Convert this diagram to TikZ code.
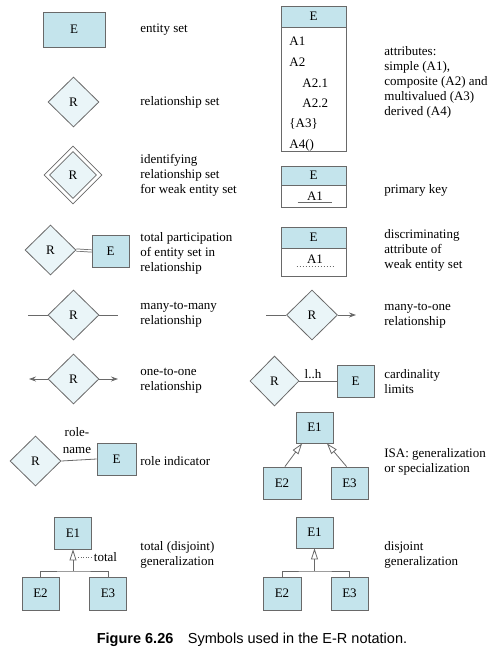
\documentclass[tikz,border=0pt]{standalone}
\usepackage{fontspec}
\setmainfont{Liberation Serif}
\newfontfamily\capfont{Liberation Sans}
\usetikzlibrary{shapes.geometric,arrows.meta}

\definecolor{entityblue}{RGB}{196,228,236}
\definecolor{relblue}{RGB}{234,245,248}
\definecolor{linegray}{RGB}{105,105,105}

\def\boxw{37pt}
\def\boxh{32pt}
\def\legx{140}
\def\legxr{384}

\begin{document}
\begin{tikzpicture}[x=1pt,y=-1pt,draw=linegray,line width=0.8pt,font=\fontsize{13}{15}\selectfont]
    \tikzstyle{entity}=[rectangle, draw=linegray, fill=entityblue, minimum width=\boxw, minimum height=\boxh, inner sep=0pt]
    \tikzstyle{relation}=[diamond, draw=linegray, fill=relblue, minimum width=51pt, minimum height=50pt, inner sep=0pt]
    \tikzstyle{attrbody}=[rectangle, draw=linegray, fill=white, minimum width=65pt, inner sep=0pt]
    \tikzstyle{legend}=[anchor=west, align=left, inner sep=0pt]
    \tikzstyle{plain}=[inner sep=0pt]
    \tikzstyle{isa}=[-{Triangle[open,length=11pt,width=7pt]}]
    \tikzstyle{oneside}=[-{Stealth[length=7pt,width=5pt]}]

    \useasboundingbox (0,0) rectangle (500,657);

    % left column
    \node[entity, minimum width=62pt, minimum height=35pt] (es-E) at (74,29.5) {E};
    \node[legend] (es-txt) at (\legx,29.5) {entity set};

    \node[relation] (rs-R) at (73.5,102) {R};
    \node[legend] (rs-txt) at (\legx,102) {relationship set};

    \node[relation, minimum width=58pt, minimum height=58pt, fill=white] (ir-out) at (73,175) {};
    \node[relation, minimum width=47pt, minimum height=47pt] (ir-R) at (73,175) {R};
    \node[legend] (ir-txt) at (\legx,175) {identifying\\relationship set\\for weak entity set};

    \node[relation] (tp-R) at (50.5,250) {R};
    \node[entity] (tp-E) at (110.5,251) {E};
    \draw[double=white, double distance=1.5pt, line width=0.75pt] (tp-R.east) -- (tp-E.west);
    \node[legend] (tp-txt) at (\legx,253) {total participation\\of entity set in\\relationship};

    \node[relation] (mm-R) at (73.5,315) {R};
    \coordinate (mm-l) at (28,315);
    \coordinate (mm-r) at (118,315);
    \draw (mm-l) -- (mm-R.west);
    \draw (mm-R.east) -- (mm-r);
    \node[legend] (mm-txt) at (\legx,315) {many-to-many\\relationship};

    \node[relation] (oo-R) at (73.5,379) {R};
    \coordinate (oo-l) at (29,379);
    \coordinate (oo-r) at (118,379);
    \draw[oneside] (oo-R.west) -- (oo-l);
    \draw[oneside] (oo-R.east) -- (oo-r);
    \node[legend] (oo-txt) at (\legx,381) {one-to-one\\relationship};

    \node[relation] (ri-R) at (35.5,461) {R};
    \node[entity, minimum width=39pt] (ri-E) at (116.5,459) {E};
    \draw (ri-R.east) -- (ri-E.west);
    \node[plain, align=center, font=\fontsize{13}{17}\selectfont] (ri-role) at (77,441) {role-\\name};
    \node[legend] (ri-txt) at (\legx,461) {role indicator};

    \node[entity] (tg-E1) at (73,533) {E1};
    \node[entity, minimum height=33pt] (tg-E2) at (40.5,593.5) {E2};
    \node[entity, minimum height=33pt] (tg-E3) at (108,593.5) {E3};
    \coordinate (tg-j) at (73,571);
    \draw[isa] (tg-j) -- (tg-E1.south);
    \draw (tg-E2.north) |- (tg-j) -| (tg-E3.north);
    \node[plain] (tg-total) at (105.5,557) {total};
    \coordinate (tg-dot) at (78,557);
    \draw[dotted, line width=0.6pt] (tg-dot) -- (tg-total.west);
    \node[legend] (tg-txt) at (\legx,555) {total (disjoint)\\generalization};

    % right column
    \node[entity, minimum width=65pt, minimum height=21pt] (at-E) at (313.5,16.5) {E};
    \node[attrbody, minimum height=124pt, anchor=north] (at-body) at (at-E.south) {};
    \foreach \txt/\xx/\yy in {A1/289/45, A2/289/66, A2.1/302/87, A2.2/302/107, \{A3\}/289/127, A4()/289/148}
        \node[plain, anchor=base west] (at-\yy) at (\xx,\yy) {\txt};
    \node[legend] (at-txt) at (\legxr,82) {attributes:\\simple (A1),\\composite (A2) and\\multivalued (A3)\\derived (A4)};

    \node[entity, minimum width=65pt, minimum height=19pt] (pk-E) at (313.5,175.5) {E};
    \node[attrbody, minimum height=22pt, anchor=north] (pk-body) at (pk-E.south) {};
    \node[plain, minimum width=34pt] (pk-A1) at (315,196) {A1};
    \draw ([yshift=-1.5pt]pk-A1.south west) -- ([yshift=-1.5pt]pk-A1.south east);
    \node[legend] (pk-txt) at (\legxr,190) {primary key};

    \node[entity, minimum width=65pt, minimum height=21pt] (dk-E) at (313.5,237.5) {E};
    \node[attrbody, minimum height=28pt, anchor=north] (dk-body) at (dk-E.south) {};
    \node[plain, minimum width=36pt] (dk-A1) at (315,259) {A1};
    \draw[dash pattern=on 1.5pt off 1.5pt, line width=0.6pt] ([yshift=-2.5pt]dk-A1.south west) -- ([yshift=-2.5pt]dk-A1.south east);
    \node[legend] (dk-txt) at (\legxr,250) {discriminating\\attribute of\\weak entity set};

    \node[relation] (mo-R) at (312,315) {R};
    \coordinate (mo-l) at (266,315);
    \coordinate (mo-r) at (356,315);
    \draw (mo-l) -- (mo-R.west);
    \draw[oneside] (mo-R.east) -- (mo-r);
    \node[legend] (mo-txt) at (\legxr,316) {many-to-one\\relationship};

    \node[relation, minimum width=49pt] (cl-R) at (274.5,381) {R};
    \node[entity] (cl-E) at (355.5,381) {E};
    \draw (cl-R.east) -- (cl-E.west);
    \node[plain, anchor=base] (cl-lh) at (313,378.5) {l..h};
    \node[legend] (cl-txt) at (\legxr,382) {cardinality\\limits};

    \node[entity, minimum height=31pt] (isa-E1) at (314.5,427.5) {E1};
    \node[entity, minimum width=38pt] (isa-E2) at (282,483) {E2};
    \node[entity] (isa-E3) at (349.5,483) {E3};
    \draw[isa] (isa-E2.80) -- (isa-E1.-128);
    \draw[isa] (isa-E3.100) -- (isa-E1.-52);
    \node[legend] (isa-txt) at (\legxr,462) {ISA: generalization\\or specialization};

    \node[entity, minimum height=31pt] (dg-E1) at (314.5,532.5) {E1};
    \node[entity, minimum width=38pt, minimum height=33pt] (dg-E2) at (282,593.5) {E2};
    \node[entity, minimum height=33pt] (dg-E3) at (349.5,593.5) {E3};
    \coordinate (dg-j) at (314.5,571);
    \draw[isa] (dg-j) -- (dg-E1.south);
    \draw (dg-E2.north) |- (dg-j) -| (dg-E3.north);
    \node[legend] (dg-txt) at (\legxr,555) {disjoint\\generalization};

    \node[plain, font=\capfont\fontsize{14.5}{17}\selectfont] (caption) at (252,640)
        {\textbf{Figure 6.26}\hspace{1em}Symbols used in the E-R notation.};
\end{tikzpicture}
\end{document}
